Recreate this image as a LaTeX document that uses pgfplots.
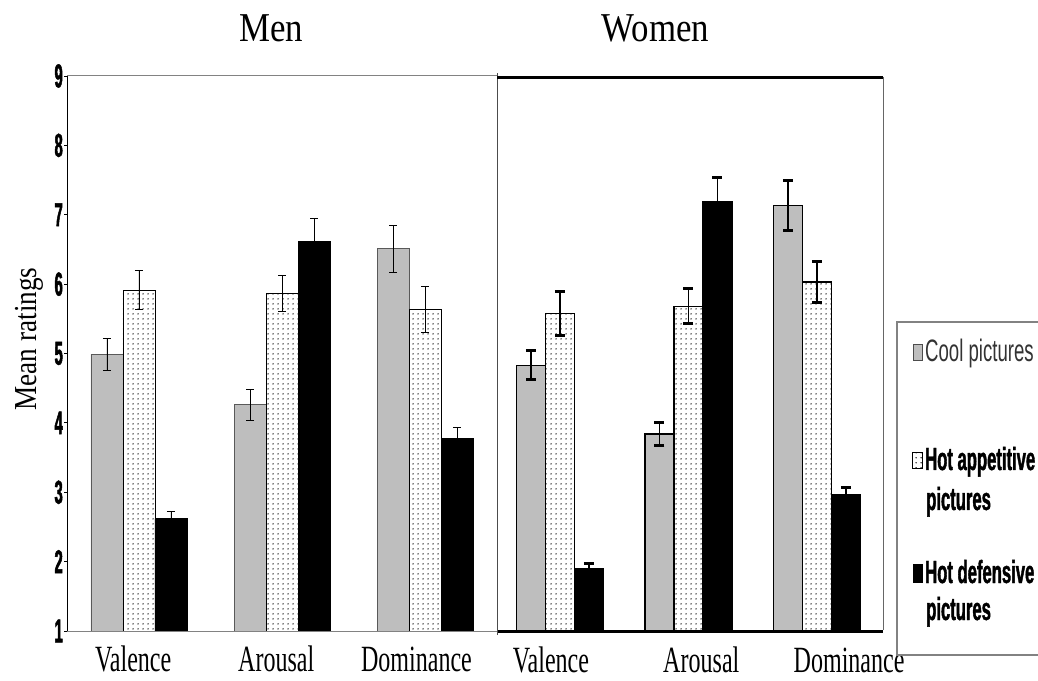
\documentclass[border=0pt]{standalone}
\usepackage{fontspec}
\setmainfont{Liberation Serif}
\newfontfamily\titlefont[FakeStretch=0.85]{Liberation Serif}
\newfontfamily\labfont[FakeStretch=0.65]{Liberation Serif}
\newfontfamily\tickfont[FakeStretch=0.45,FakeBold=1.5]{Liberation Sans}
\newfontfamily\legfont[FakeStretch=0.52,FakeBold=1.2]{Liberation Sans}
\newfontfamily\legfontreg[FakeStretch=0.6]{Liberation Sans}
\usepackage{pgfplots}
\pgfplotsset{compat=1.18}
\usepackage{pgfplotstable}
\usetikzlibrary{patterns.meta}

\definecolor{coolgray}{RGB}{190,190,190}
\definecolor{boxgray}{RGB}{130,130,130}

\tikzdeclarepattern{
  name=sparsedots,
  type=uncolored,
  bounding box={(0pt,0pt) and (4.5pt,5pt)},
  tile size={(4.5pt,5pt)},
  code={\fill (2.25pt,2.5pt) circle (0.8pt);}
}

\pgfplotstableread{
x cool coole hot hote def defe
0 4.99 0.23 5.91 0.28 2.62 0.11
1 4.26 0.22 5.86 0.26 6.62 0.32
2 6.51 0.34 5.63 0.33 3.77 0.16
}\mentable

\pgfplotstableread{
x cool coole hot hote def defe
0 4.83 0.21 5.58 0.32 1.90 0.08
1 3.84 0.17 5.68 0.25 7.19 0.34
2 7.13 0.36 6.03 0.30 2.96 0.11
}\womentable

\begin{document}
\begin{tikzpicture}[x=1pt,y=1pt]
\useasboundingbox (0,0) rectangle (1038,680);

% ---------------- Men ----------------
\begin{axis}[
  at={(67pt,49pt)}, anchor=south west, scale only axis,
  width=430pt, height=555pt,
  xmin=-0.503, xmax=2.503, ymin=1, ymax=9,
  axis on top,
  axis x line*=bottom, axis y line*=left,
  x axis line style={boxgray, line width=1pt, -},
  y axis line style={black, line width=1pt, -},
  ybar=0pt, bar width=32pt,
  xtick={-0.04,0.96,1.94}, xticklabels={Valence,Arousal,Dominance},
  xtick style={draw=none},
  xticklabel style={font=\labfont\fontsize{37}{40}\selectfont, anchor=base, yshift=-37pt, inner sep=0pt},
  ytick={1,2,3,4,5,6,7,8,9}, yticklabels={1,2,3,4,5,6,7,8,9},
  yticklabel style={font=\tickfont\bfseries\fontsize{33}{35}\selectfont, anchor=east, inner sep=0pt, xshift=-1pt},
  tick align=outside, major tick length=3pt,
  ytick style={black, line width=0.8pt},
]
\addplot[fill=coolgray, draw=black!65, line width=0.8pt,
  error bars/.cd, y dir=both, y explicit,
  error bar style={black, line width=0.9pt},
  error mark options={rotate=90, mark size=4pt, line width=0.9pt, black}]
  table[x=x, y=cool, y error=coole] {\mentable};
\addplot[pattern=sparsedots, pattern color=black, draw=black, line width=0.8pt,
  error bars/.cd, y dir=both, y explicit,
  error bar style={black, line width=0.9pt},
  error mark options={rotate=90, mark size=4pt, line width=0.9pt, black}]
  table[x=x, y=hot, y error=hote] {\mentable};
\addplot[fill=black, draw=black, line width=0.8pt,
  error bars/.cd, y dir=both, y explicit,
  error bar style={black, line width=0.9pt},
  error mark options={rotate=90, mark size=4pt, line width=0.9pt, black}]
  table[x=x, y=def, y error=defe] {\mentable};
\end{axis}

% ---------------- Women ----------------
\begin{axis}[
  at={(497pt,49pt)}, anchor=south west, scale only axis,
  width=386pt, height=555pt,
  xmin=-0.49, xmax=2.514, ymin=1, ymax=9,
  axis on top,
  axis x line*=bottom, axis y line*=left,
  x axis line style={black, line width=3pt, -},
  y axis line style={boxgray, line width=1pt, -},
  ybar=0pt, bar width=29pt,
  xtick={-0.07,1.10,2.25}, xticklabels={Valence,Arousal,Dominance},
  xtick style={draw=none},
  xticklabel style={font=\labfont\fontsize{37}{40}\selectfont, anchor=base, yshift=-37pt, inner sep=0pt},
  ytick=\empty,
]
\addplot[fill=coolgray, draw=black, line width=1.5pt,
  error bars/.cd, y dir=both, y explicit,
  error bar style={black, line width=1.3pt},
  error mark options={rotate=90, mark size=5pt, line width=3pt, black}]
  table[x=x, y=cool, y error=coole] {\womentable};
\addplot[pattern=sparsedots, pattern color=black, draw=black, line width=1.5pt,
  error bars/.cd, y dir=both, y explicit,
  error bar style={black, line width=1.3pt},
  error mark options={rotate=90, mark size=5pt, line width=3pt, black}]
  table[x=x, y=hot, y error=hote] {\womentable};
\addplot[fill=black, draw=black, line width=1.5pt,
  error bars/.cd, y dir=both, y explicit,
  error bar style={black, line width=1.3pt},
  error mark options={rotate=90, mark size=5pt, line width=3pt, black}]
  table[x=x, y=def, y error=defe] {\womentable};
\end{axis}

% frame lines
\draw[boxgray, line width=1pt] (67,604) -- (497,604);
\draw[black!70, line width=1pt] (497,45) -- (497,607);
\draw[black, line width=3pt] (497,602.5) -- (883,602.5);
\draw[black!60, line width=1pt] (883,50) -- (883,602.5);

% titles and y label
\node[font=\titlefont\fontsize{41}{44}\selectfont, anchor=base] at (271,638) {Men};
\node[font=\titlefont\fontsize{41}{44}\selectfont, anchor=base] at (655.5,638) {Women};
\node[font=\titlefont\fontsize{32}{34}\selectfont, rotate=90, anchor=base] at (36,341) {Mean ratings};

% legend
\draw[boxgray, line width=1.2pt] (1045,358) -- (897,358) -- (897,25) -- (1045,25);
\filldraw[fill=coolgray, draw=black!70, line width=0.8pt] (913,320) rectangle (922,336);
\node[font=\legfontreg\fontsize{31}{33}\selectfont, text=black!80, anchor=base west, inner sep=0pt] at (925,318) {Cool pictures};
\draw[pattern=sparsedots, pattern color=black, draw=black, line width=0.8pt] (912,212) rectangle (922,228);
\node[font=\legfont\bfseries\fontsize{32}{34}\selectfont, anchor=base west, inner sep=0pt] at (925,210) {Hot appetitive};
\node[font=\legfont\bfseries\fontsize{32}{34}\selectfont, anchor=base west, inner sep=0pt] at (926,170) {pictures};
\filldraw[fill=black, draw=black, line width=0.8pt] (913,98) rectangle (922,116);
\node[font=\legfont\bfseries\fontsize{32}{34}\selectfont, anchor=base west, inner sep=0pt] at (925,97) {Hot defensive};
\node[font=\legfont\bfseries\fontsize{32}{34}\selectfont, anchor=base west, inner sep=0pt] at (926,60) {pictures};
\end{tikzpicture}
\end{document}
